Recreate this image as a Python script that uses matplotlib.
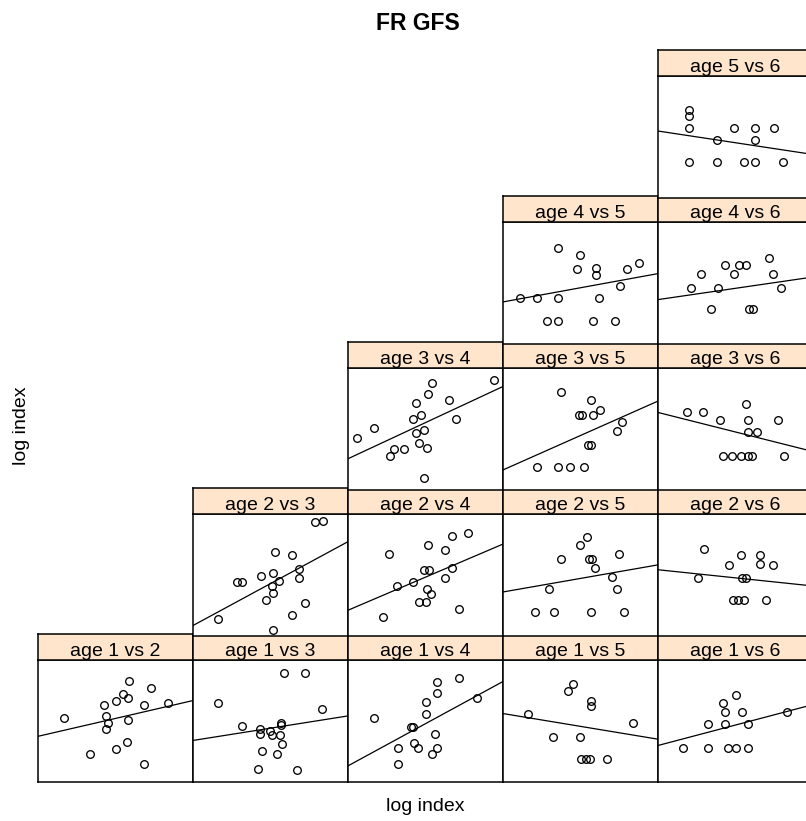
import matplotlib.pyplot as plt

plt.rcParams['font.family'] = ['Liberation Sans', 'DejaVu Sans']

# --- data (panel-relative log index, 0-100 on both axes) ---
x_1v2 = [58.7, 72.7, 55.1, 58.3, 50.1, 42.6, 68.4, 84.1, 16.8, 43.7, 58.3, 45.2, 43.7, 57.2, 50.1, 33.6, 68.4]
y_1v2 = [82.7, 77.1, 71.5, 68.7, 66.5, 62.8, 62.8, 64.2, 52.5, 53.9, 50.6, 47.8, 43.6, 32.4, 26.5, 22.6, 14.8]
fit_1v2 = [37.2, 66.5]

x_1v3 = [58.5, 72.1, 16.1, 83.1, 57.0, 57.0, 31.6, 43.0, 43.0, 49.9, 51.2, 56.0, 57.5, 44.8, 54.0, 42.0, 67.4]
y_1v3 = [88.8, 88.8, 64.2, 59.5, 48.3, 46.1, 45.5, 43.6, 39.4, 41.6, 38.6, 38.6, 30.7, 25.4, 22.4, 10.6, 9.2]
fit_1v3 = [33.8, 53.9]

x_1v4 = [72.0, 57.6, 57.6, 50.5, 50.5, 17.1, 83.4, 42.1, 40.8, 56.3, 42.5, 45.1, 32.6, 57.6, 54.1, 32.6]
y_1v4 = [84.6, 81.8, 72.9, 65.1, 55.9, 52.5, 68.4, 44.7, 44.7, 39.4, 32.1, 27.9, 27.4, 27.9, 22.4, 14.8]
fit_1v4 = [12.9, 82.0]

x_1v5 = [45.7, 41.9, 56.9, 56.9, 16.5, 83.8, 32.2, 50.0, 50.5, 53.5, 56.5, 67.2]
y_1v5 = [80.4, 74.3, 65.9, 62.3, 55.9, 48.3, 36.6, 36.6, 19.0, 19.0, 19.0, 19.0]
fit_1v5 = [55.9, 34.9]

x_1v6 = [50.3, 42.4, 43.4, 54.6, 32.7, 43.4, 58.1, 83.7, 16.5, 32.7, 45.6, 50.3, 58.1]
y_1v6 = [70.7, 64.5, 57.3, 57.3, 46.9, 46.9, 46.9, 57.3, 27.9, 27.9, 27.9, 27.9, 27.9]
fit_1v6 = [29.6, 63.1]

x_2v3 = [78.8, 84.1, 52.9, 64.1, 68.4, 28.2, 31.8, 43.7, 51.6, 55.5, 68.4, 50.8, 51.6, 47.3, 72.1, 64.1, 16.1, 51.6]
y_2v3 = [93.6, 94.4, 68.6, 65.8, 55.0, 43.9, 43.9, 48.6, 51.4, 45.0, 47.2, 41.1, 35.3, 29.1, 26.4, 16.6, 13.9, 4.7]
fit_2v3 = [8.3, 77.0]

x_2v4 = [77.4, 67.5, 51.5, 62.7, 26.8, 49.4, 52.6, 67.5, 62.7, 31.7, 42.3, 50.9, 53.7, 50.5, 45.7, 72.0, 22.5]
y_2v4 = [84.1, 81.4, 74.1, 70.0, 66.6, 54.1, 53.6, 55.5, 46.9, 41.1, 43.9, 38.3, 34.1, 27.8, 27.8, 22.2, 15.3]
fit_2v4 = [20.8, 75.0]

x_2v5 = [54.1, 50.0, 74.8, 37.6, 55.4, 57.6, 59.5, 70.3, 30.0, 73.5, 21.0, 33.2, 56.9, 78.0]
y_2v5 = [80.5, 74.1, 67.2, 63.0, 63.0, 63.0, 55.5, 48.0, 38.0, 38.0, 19.1, 19.1, 19.1, 19.1]
fit_2v5 = [35.8, 58.0]

x_2v6 = [30.1, 53.6, 66.0, 66.0, 45.8, 74.6, 25.8, 54.2, 57.0, 48.8, 52.1, 55.9, 70.3]
y_2v6 = [71.4, 65.8, 65.8, 59.1, 58.0, 58.0, 46.9, 46.9, 46.9, 29.1, 29.1, 29.1, 29.1]
fit_2v6 = [54.1, 40.8]

x_3v4 = [94.1, 54.1, 52.0, 43.8, 65.3, 17.1, 5.7, 47.2, 41.9, 69.8, 43.8, 49.4, 46.2, 50.9, 27.0, 30.0, 36.3, 49.4]
y_3v4 = [89.8, 87.5, 78.4, 71.4, 73.9, 50.9, 42.3, 61.4, 58.1, 58.1, 46.4, 48.6, 38.4, 34.2, 27.8, 33.6, 33.6, 9.2]
fit_3v4 = [25.3, 84.5]

x_3v5 = [37.8, 56.9, 62.9, 49.4, 51.1, 58.6, 76.9, 73.7, 54.8, 56.9, 22.1, 35.4, 43.4, 52.2]
y_3v5 = [80.0, 73.9, 65.6, 61.4, 61.4, 61.4, 55.6, 48.1, 36.4, 36.4, 18.9, 18.9, 18.9, 18.9]
fit_3v5 = [16.1, 72.5]

x_3v6 = [57.0, 18.7, 29.0, 40.4, 58.5, 77.9, 58.5, 64.1, 42.4, 47.8, 53.6, 58.5, 61.1, 81.8]
y_3v6 = [70.3, 63.9, 63.9, 57.0, 57.0, 57.0, 47.0, 47.0, 27.8, 27.8, 27.8, 27.8, 27.8, 27.8]
fit_3v6 = [63.4, 31.4]

x_4v5 = [35.6, 50.2, 47.9, 60.1, 60.1, 80.4, 88.1, 75.9, 11.1, 22.3, 35.6, 62.3, 28.9, 35.6, 58.0, 72.4]
y_4v5 = [78.7, 73.0, 61.5, 62.3, 56.0, 61.5, 66.1, 47.5, 37.4, 37.4, 37.4, 37.4, 18.9, 18.9, 18.9, 18.9]
fit_4v5 = [34.2, 57.4]

x_4v6 = [71.6, 43.7, 52.5, 57.0, 28.0, 49.5, 74.6, 21.3, 39.1, 79.6, 34.4, 59.2, 61.7]
y_4v6 = [70.5, 64.8, 64.8, 64.8, 57.4, 57.4, 57.4, 45.9, 45.9, 45.9, 28.7, 28.7, 28.7]
fit_4v6 = [36.1, 54.6]

x_5v6 = [20.2, 20.2, 20.2, 49.3, 62.8, 75.1, 38.1, 62.8, 20.2, 38.1, 55.9, 62.8, 80.7]
y_5v6 = [72.2, 67.0, 57.5, 57.5, 57.5, 57.5, 47.7, 47.7, 28.9, 28.9, 28.9, 28.9, 28.9]
fit_5v6 = [54.7, 35.5]

# (first age, second age, x, y, fit ends)
panels = [
    (1, 2, x_1v2, y_1v2, fit_1v2), (1, 3, x_1v3, y_1v3, fit_1v3),
    (1, 4, x_1v4, y_1v4, fit_1v4), (1, 5, x_1v5, y_1v5, fit_1v5),
    (1, 6, x_1v6, y_1v6, fit_1v6),
    (2, 3, x_2v3, y_2v3, fit_2v3), (2, 4, x_2v4, y_2v4, fit_2v4),
    (2, 5, x_2v5, y_2v5, fit_2v5), (2, 6, x_2v6, y_2v6, fit_2v6),
    (3, 4, x_3v4, y_3v4, fit_3v4), (3, 5, x_3v5, y_3v5, fit_3v5),
    (3, 6, x_3v6, y_3v6, fit_3v6),
    (4, 5, x_4v5, y_4v5, fit_4v5), (4, 6, x_4v6, y_4v6, fit_4v6),
    (5, 6, x_5v6, y_5v6, fit_5v6),
]

W, H = 806, 821
fig = plt.figure(figsize=(W / 100, H / 100), dpi=100)

# lattice-like grid in pixels
col_left, col_w = 38.0, 154.9
bottom0, row_pitch = 781.7, 146.0
body_h, strip_h = 122.0, 25.5
border = 1.1


def rect(left, top, w, h):
    return [left / W, (H - top - h) / H, w / W, h / H]


for i, j, xs, ys, fit in panels:
    left = col_left + (j - 2) * col_w
    body_bottom = bottom0 - (i - 1) * row_pitch
    body_top = body_bottom - body_h

    ax = fig.add_axes(rect(left, body_top, col_w, body_h))
    ax.plot(xs, ys, linestyle='none', marker='o', markersize=5.5,
            markerfacecolor='none', markeredgecolor='black', markeredgewidth=0.95)
    ax.plot([0, 100], fit, color='black', linewidth=0.9)
    ax.set_xlim(0, 100)
    ax.set_ylim(0, 100)
    ax.set_xticks([])
    ax.set_yticks([])
    for s in ax.spines.values():
        s.set_linewidth(border)

    # strip on top of the panel
    sax = fig.add_axes(rect(left, body_top - strip_h, col_w, strip_h))
    sax.set_facecolor('#FFE5CC')
    sax.set_xticks([])
    sax.set_yticks([])
    for s in sax.spines.values():
        s.set_linewidth(border)
    sax.text(0.5, 0.16, f"age {i} vs {j}", ha='center', va='baseline',
             fontsize=14, transform=sax.transAxes)

fig.text(418 / W, 1 - 30 / H, "FR GFS", ha='center', va='baseline',
         fontsize=16.5, fontweight='bold')
fig.text(425 / W, 1 - 811 / H, "log index", ha='center', va='baseline', fontsize=14)
fig.text(21 / W, 1 - 426 / H, "log index", ha='center', va='center',
         rotation=90, fontsize=14)

fig.savefig("out.png", dpi=100)
